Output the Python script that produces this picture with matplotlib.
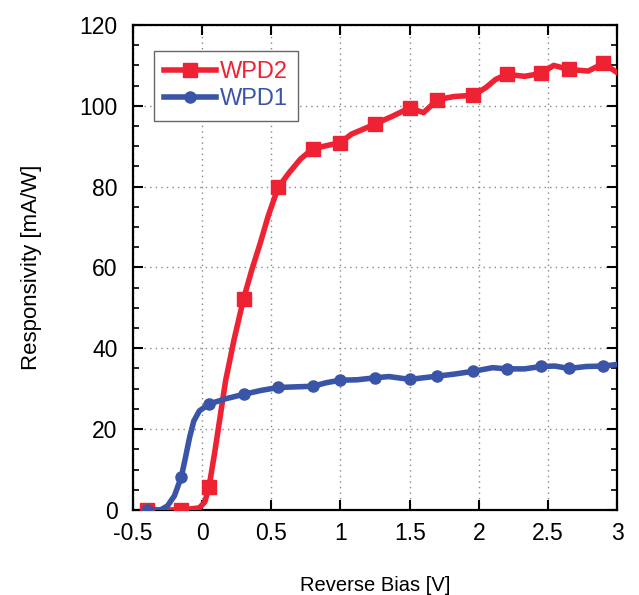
import numpy as np
import matplotlib
matplotlib.use('Agg')
import matplotlib.pyplot as plt
from matplotlib.ticker import MultipleLocator

plt.rcParams['font.family'] = ['Liberation Sans', 'DejaVu Sans']

# WPD2 curve (markers at the indices below)
bias_wpd2 = [-0.4, -0.15, -0.02, 0.02, 0.05, 0.09, 0.13, 0.17, 0.23, 0.3, 0.36, 0.42, 0.48,
             0.55, 0.63, 0.71, 0.8, 0.88, 1.0, 1.08, 1.17, 1.25, 1.38, 1.5, 1.6, 1.7, 1.82,
             1.96, 2.05, 2.12, 2.2, 2.33, 2.45, 2.54, 2.65, 2.79, 2.9, 3.0]
resp_wpd2 = [0, 0, 0.5, 2, 5.7, 14, 23, 32, 42, 52.3, 59.5, 66, 73,
             79.8, 83.5, 86.8, 89.4, 90, 90.9, 93, 94.3, 95.5, 97.5, 99.5, 98.3, 101.5, 102.3,
             102.6, 104.5, 106.5, 107.8, 107.3, 108, 110, 109, 108.6, 110.5, 108.2]
marks_wpd2 = [0, 1, 4, 9, 13, 16, 18, 21, 23, 25, 27, 30, 32, 34, 36]

# WPD1 curve
bias_wpd1 = [-0.4, -0.3, -0.25, -0.2, -0.15, -0.12, -0.09, -0.06, -0.02, 0.05, 0.17, 0.3,
             0.43, 0.55, 0.8, 0.9, 1.0, 1.12, 1.25, 1.35, 1.5, 1.7, 1.82, 1.96, 2.1, 2.2,
             2.33, 2.45, 2.55, 2.65, 2.78, 2.9, 3.0]
resp_wpd1 = [0, 0, 1, 3.5, 8.2, 13, 18, 22, 24.5, 26.2, 27.5, 28.6,
             29.6, 30.3, 30.6, 31.5, 32.1, 32.2, 32.7, 33, 32.3, 33.1, 33.6, 34.3, 35.2, 34.9,
             34.9, 35.5, 35.6, 35, 35.5, 35.6, 36]
marks_wpd1 = [0, 4, 9, 11, 13, 14, 16, 18, 20, 21, 23, 25, 27, 29, 31]

red = '#ee2233'
blue = '#3a55a8'

fig = plt.figure(figsize=(6.39, 5.95), dpi=100)
ax = fig.add_axes([0.208, 0.143, 0.758, 0.815])

ax.plot(bias_wpd2, resp_wpd2, color=red, lw=4, marker='s', ms=9.5,
        markevery=marks_wpd2, label='WPD2', zorder=3)
ax.plot(bias_wpd1, resp_wpd1, color=blue, lw=4, marker='o', ms=8,
        markevery=marks_wpd1, label='WPD1', zorder=3)

ax.set_xlim(-0.5, 3)
ax.set_ylim(0, 120)
ax.yaxis.set_major_locator(MultipleLocator(20))
ax.yaxis.set_minor_locator(MultipleLocator(5))
ax.set_xticks([-0.5, 0, 0.5, 1, 1.5, 2, 2.5, 3])
ax.set_xticklabels(['-0.5', '0', '0.5', '1', '1.5', '2', '2.5', '3'])

ax.tick_params(which='both', direction='in', top=True, right=True, labelsize=16.5)
ax.tick_params(axis='x', pad=9)
ax.tick_params(axis='y', pad=11)
ax.tick_params(which='major', length=7, width=1.5)
ax.tick_params(which='minor', length=4, width=1.2)
for s in ax.spines.values():
    s.set_linewidth(1.6)

ax.grid(True, which='major', ls=(0, (1, 3)), color='#888888', lw=1)

ax.set_xlabel('Reverse Bias [V]', fontsize=14.5, labelpad=22)
ax.set_ylabel('Responsivity [mA/W]', fontsize=16, labelpad=27)

leg = ax.legend(loc='upper left', bbox_to_anchor=(0.043, 0.947), fontsize=17,
                handlelength=2.2, handletextpad=0.15, borderpad=0.45, labelspacing=0.2,
                borderaxespad=0, fancybox=False, framealpha=1, edgecolor='#666666')
leg.get_frame().set_linewidth(1.0)
for txt, c in zip(leg.get_texts(), [red, blue]):
    txt.set_color(c)

plt.savefig('out.png', dpi=100)
